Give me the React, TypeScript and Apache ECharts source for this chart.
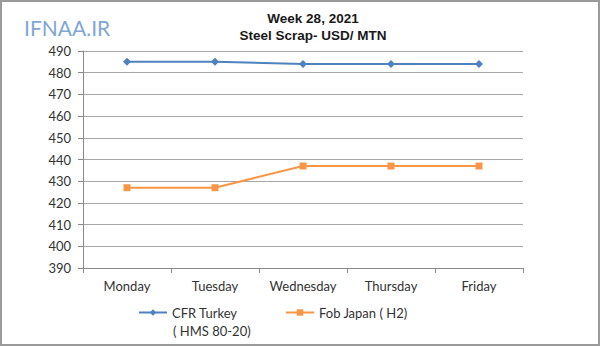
import React, { useEffect, useRef } from "react";
import * as echarts from "echarts";

const days = ["Monday", "Tuesday", "Wednesday", "Thursday", "Friday"];
const cfrTurkey = [485, 485, 484, 484, 484];
const fobJapan = [427, 427, 437, 437, 437];
const yMin = 390;
const yMax = 490;
const yStep = 10;

const FONT = "Lato";

export default function App() {
  const ref = useRef<HTMLDivElement>(null);
  useEffect(() => {
    if (!ref.current) return;
    const chart = echarts.init(ref.current, undefined, { renderer: "svg" });
    const titleStyle = {
      fontFamily: "Liberation Sans",
      fontSize: 13.5,
      fontWeight: "bold",
      color: "#1a1a1a",
      lineHeight: 16,
    };
    chart.setOption({
      animation: false,
      backgroundColor: "#ffffff",
      textStyle: { fontFamily: FONT },
      title: {
        text: "Week 28, 2021",
        subtext: "Steel Scrap- USD/ MTN",
        left: 313,
        top: 10,
        padding: 0,
        itemGap: 1,
        textAlign: "center",
        textStyle: titleStyle,
        subtextStyle: titleStyle,
      },
      grid: { left: 83, right: 77, top: 51, bottom: 78, containLabel: false },
      xAxis: {
        type: "category",
        data: days,
        boundaryGap: true,
        axisLine: { lineStyle: { color: "#8a8a8a", width: 1 } },
        axisTick: { show: true, length: 5, lineStyle: { color: "#8a8a8a" } },
        axisLabel: { color: "#333333", fontSize: 13, fontFamily: FONT, margin: 11 },
        splitLine: { show: false },
      },
      yAxis: {
        type: "value",
        min: yMin,
        max: yMax,
        interval: yStep,
        axisLine: { show: true, lineStyle: { color: "#8a8a8a", width: 1 } },
        axisTick: { show: true, length: 5, lineStyle: { color: "#8a8a8a" } },
        axisLabel: { color: "#333333", fontSize: 13, fontFamily: FONT, margin: 12 },
        splitLine: { show: true, lineStyle: { color: "#a6a6a6", width: 1 } },
      },
      legend: [
        {
          data: ["CFR Turkey"],
          left: 138,
          top: 306,
          padding: 0,
          itemWidth: 28,
          itemHeight: 8,
          textStyle: { fontFamily: FONT, fontSize: 13, color: "#333333" },
        },
        {
          data: ["Fob Japan ( H2)"],
          left: 285,
          top: 306,
          padding: 0,
          itemWidth: 28,
          itemHeight: 8,
          textStyle: { fontFamily: FONT, fontSize: 13, color: "#333333" },
        },
      ],
      graphic: [
        {
          type: "rect",
          shape: { x: 1, y: 1, width: 598, height: 344 },
          style: { fill: "none", stroke: "#9a9a9a", lineWidth: 2 },
          silent: true,
        },
        {
          type: "text",
          left: 24,
          top: 17,
          style: {
            text: "IFNAA.IR",
            fill: "#7ea6d6",
            font: `21px ${FONT}`,
          },
        },
        {
          type: "text",
          left: 173,
          top: 324,
          style: {
            text: "( HMS 80-20)",
            fill: "#333333",
            font: `13px ${FONT}`,
          },
        },
      ],
      series: [
        {
          name: "CFR Turkey",
          type: "line",
          data: cfrTurkey,
          symbol: "diamond",
          symbolSize: 8,
          color: "#4f81bd",
          lineStyle: { color: "#4f81bd", width: 2 },
          itemStyle: { color: "#4f81bd" },
        },
        {
          name: "Fob Japan ( H2)",
          type: "line",
          data: fobJapan,
          symbol: "rect",
          symbolSize: 7,
          color: "#f79646",
          lineStyle: { color: "#f79646", width: 2 },
          itemStyle: { color: "#f79646" },
        },
      ],
    });
    return () => chart.dispose();
  }, []);
  return (
    <div
      ref={ref}
      style={{ position: "absolute", left: 0, top: 0, width: 600, height: 346 }}
    />
  );
}
